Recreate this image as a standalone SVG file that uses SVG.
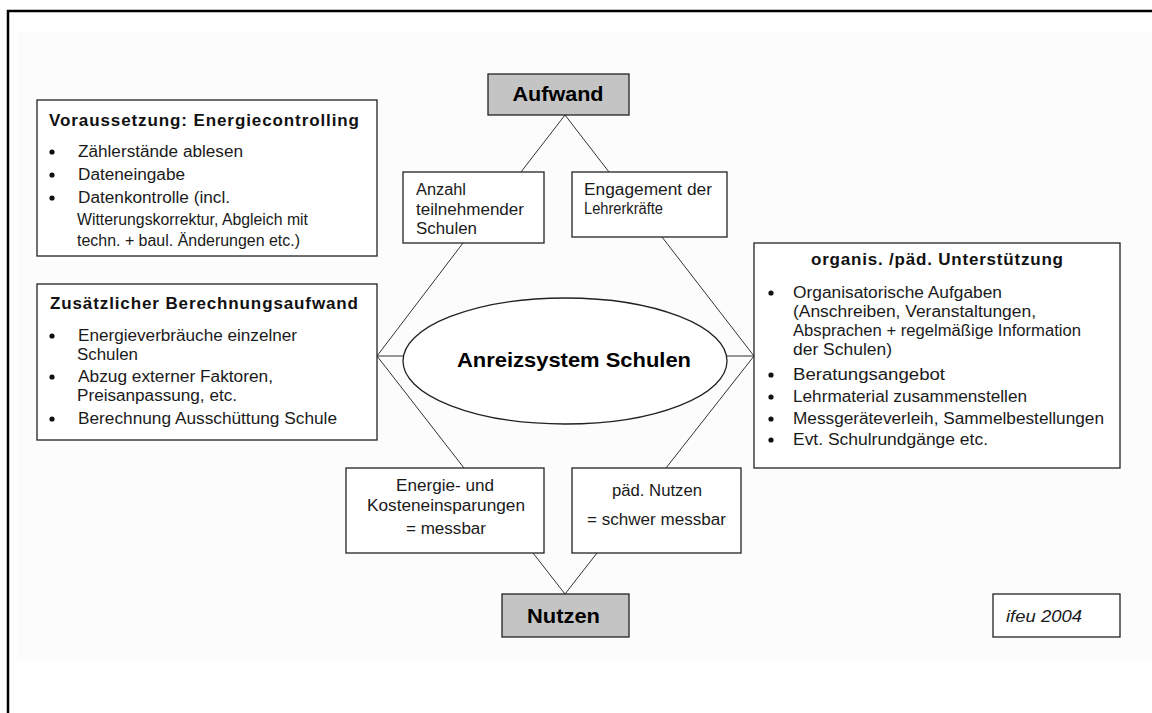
<svg xmlns="http://www.w3.org/2000/svg" width="1152" height="713" viewBox="0 0 1152 713">
<style>
.bx{fill:#fff;stroke:#222;stroke-width:1.3}
.gr{fill:#c4c4c4;stroke:#222;stroke-width:1.3}
.t{font-family:"Liberation Sans",Arial,sans-serif;font-size:16px;fill:#1a1a1a}
.tb{font-family:"Liberation Sans",Arial,sans-serif;font-size:17px;font-weight:bold;fill:#111}
.tc{text-anchor:middle}
.big{font-family:"Liberation Sans",Arial,sans-serif;font-size:20px;font-weight:bold;fill:#000;text-anchor:middle}
.it{font-family:"Liberation Sans",Arial,sans-serif;font-size:16px;font-style:italic;fill:#1a1a1a}
.bul{fill:#111}
.ln{stroke:#333;stroke-width:1;fill:none}
</style>
<rect x="17" y="32" width="1135" height="628" fill="#fcfcfc"/>
<path d="M8 713 V11 H1152" fill="none" stroke="#000" stroke-width="2.5"/>

<g id="connectors">
<path class="ln" d="M565 115 L521 172 M565 115 L609 172"/>
<path class="ln" d="M463 243 L377 356 M662 237 L754 356"/>
<path class="ln" d="M377 356 H403 M726 356 H754"/>
<path class="ln" d="M377 356 L464 468 M754 356 L666 468"/>
<path class="ln" d="M533 553 L565 594 M597 553 L565 594"/>
</g>

<g id="voraussetzung">
<rect class="bx" x="37" y="100" width="340" height="156"/>
<text class="tb" x="49" y="126" textLength="310" lengthAdjust="spacing">Voraussetzung: Energiecontrolling</text>
<circle class="bul" cx="52" cy="152" r="2.6"/>
<circle class="bul" cx="52" cy="175" r="2.6"/>
<circle class="bul" cx="52" cy="198" r="2.6"/>
<text class="t" x="78" y="157" textLength="165" lengthAdjust="spacingAndGlyphs">Zählerstände ablesen</text>
<text class="t" x="78" y="180" textLength="107" lengthAdjust="spacingAndGlyphs">Dateneingabe</text>
<text class="t" x="78" y="203" textLength="152" lengthAdjust="spacingAndGlyphs">Datenkontrolle (incl.</text>
<text class="t" x="77" y="225" textLength="231" lengthAdjust="spacingAndGlyphs">Witterungskorrektur, Abgleich mit</text>
<text class="t" x="77" y="246" textLength="223" lengthAdjust="spacingAndGlyphs">techn. + baul. Änderungen etc.)</text>
</g>

<g id="berechnungsaufwand">
<rect class="bx" x="37" y="284" width="340" height="156"/>
<text class="tb" x="50" y="309" textLength="308" lengthAdjust="spacing">Zusätzlicher Berechnungsaufwand</text>
<circle class="bul" cx="52" cy="336" r="2.6"/>
<circle class="bul" cx="52" cy="377" r="2.6"/>
<circle class="bul" cx="52" cy="419" r="2.6"/>
<text class="t" x="78" y="341" textLength="219" lengthAdjust="spacingAndGlyphs">Energieverbräuche einzelner</text>
<text class="t" x="77" y="360" textLength="61" lengthAdjust="spacingAndGlyphs">Schulen</text>
<text class="t" x="78" y="382" textLength="195" lengthAdjust="spacingAndGlyphs">Abzug externer Faktoren,</text>
<text class="t" x="77" y="401" textLength="160" lengthAdjust="spacingAndGlyphs">Preisanpassung, etc.</text>
<text class="t" x="78" y="424" textLength="259" lengthAdjust="spacingAndGlyphs">Berechnung Ausschüttung Schule</text>
</g>

<g id="aufwand">
<rect class="gr" x="488" y="74" width="141" height="41"/>
<text class="big" x="558" y="101" textLength="91" lengthAdjust="spacingAndGlyphs">Aufwand</text>
</g>

<g id="anzahl">
<rect class="bx" x="403" y="172" width="141" height="71"/>
<text class="t" x="416" y="195" textLength="50" lengthAdjust="spacingAndGlyphs">Anzahl</text>
<text class="t" x="416" y="215" textLength="108" lengthAdjust="spacingAndGlyphs">teilnehmender</text>
<text class="t" x="416" y="234" textLength="61" lengthAdjust="spacingAndGlyphs">Schulen</text>
</g>

<g id="engagement">
<rect class="bx" x="572" y="172" width="155" height="65"/>
<text class="t" x="584" y="195" textLength="128" lengthAdjust="spacingAndGlyphs">Engagement der</text>
<text class="t" x="584" y="214" textLength="79" lengthAdjust="spacingAndGlyphs">Lehrerkräfte</text>
</g>

<g id="anreizsystem">
<ellipse class="bx" cx="565" cy="361" rx="162" ry="63"/>
<text class="big" x="574" y="367" style="font-size:21px" textLength="234" lengthAdjust="spacingAndGlyphs">Anreizsystem Schulen</text>
</g>

<g id="unterstuetzung">
<rect class="bx" x="754" y="243" width="366" height="225"/>
<text class="tb" x="811" y="265" textLength="252" lengthAdjust="spacing">organis. /päd. Unterstützung</text>
<circle class="bul" cx="771" cy="293" r="2.6"/>
<circle class="bul" cx="771" cy="375" r="2.6"/>
<circle class="bul" cx="771" cy="397" r="2.6"/>
<circle class="bul" cx="771" cy="419" r="2.6"/>
<circle class="bul" cx="771" cy="440" r="2.6"/>
<text class="t" x="793" y="298" textLength="209" lengthAdjust="spacingAndGlyphs">Organisatorische Aufgaben</text>
<text class="t" x="793" y="317" textLength="243" lengthAdjust="spacingAndGlyphs">(Anschreiben, Veranstaltungen,</text>
<text class="t" x="793" y="336" textLength="288" lengthAdjust="spacingAndGlyphs">Absprachen + regelmäßige Information</text>
<text class="t" x="793" y="355" textLength="99" lengthAdjust="spacingAndGlyphs">der Schulen)</text>
<text class="t" x="793" y="380" textLength="152" lengthAdjust="spacingAndGlyphs">Beratungsangebot</text>
<text class="t" x="793" y="402" textLength="234" lengthAdjust="spacingAndGlyphs">Lehrmaterial zusammenstellen</text>
<text class="t" x="793" y="424" textLength="311" lengthAdjust="spacingAndGlyphs">Messgeräteverleih, Sammelbestellungen</text>
<text class="t" x="793" y="445" textLength="195" lengthAdjust="spacingAndGlyphs">Evt. Schulrundgänge etc.</text>
</g>

<g id="einsparungen">
<rect class="bx" x="346" y="468" width="198" height="85"/>
<text class="t tc" x="445" y="491" textLength="98" lengthAdjust="spacingAndGlyphs">Energie- und</text>
<text class="t tc" x="446" y="511" textLength="158" lengthAdjust="spacingAndGlyphs">Kosteneinsparungen</text>
<text class="t tc" x="446" y="534" textLength="80" lengthAdjust="spacingAndGlyphs">= messbar</text>
</g>

<g id="paed-nutzen">
<rect class="bx" x="572" y="468" width="169" height="85"/>
<text class="t tc" x="657" y="496" textLength="90" lengthAdjust="spacingAndGlyphs">päd. Nutzen</text>
<text class="t tc" x="656.5" y="525" textLength="139" lengthAdjust="spacingAndGlyphs">= schwer messbar</text>
</g>

<g id="nutzen">
<rect class="gr" x="502" y="594" width="127" height="43"/>
<text class="big" x="563.5" y="623" textLength="73" lengthAdjust="spacingAndGlyphs">Nutzen</text>
</g>

<g id="ifeu">
<rect class="bx" x="993" y="594" width="127" height="43"/>
<text class="it" x="1006" y="622" textLength="76" lengthAdjust="spacingAndGlyphs">ifeu 2004</text>
</g>
</svg>
